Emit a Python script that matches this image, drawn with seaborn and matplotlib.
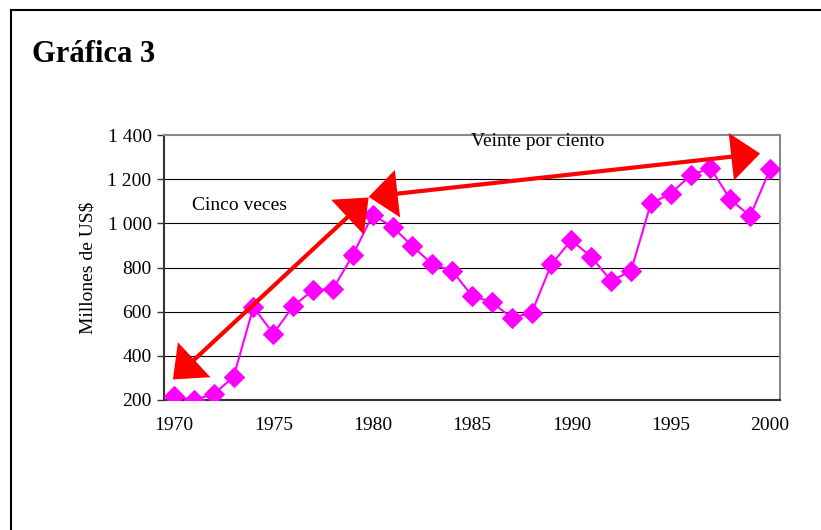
import matplotlib
matplotlib.use("Agg")
import matplotlib.pyplot as plt
import seaborn as sns
import pandas as pd
from matplotlib.patches import FancyArrowPatch, Rectangle
from matplotlib.ticker import FuncFormatter

# Data
years = list(range(1970, 2001))
values = [218, 200, 227, 304, 621, 500, 625, 698, 702, 856,
          1038, 984, 897, 815, 785, 672, 643, 572, 595, 815,
          924, 848, 740, 784, 1090, 1135, 1217, 1251, 1108, 1033, 1244]
y_ticks = [200, 400, 600, 800, 1000, 1200, 1400]
x_labels = [1970, 1975, 1980, 1985, 1990, 1995, 2000]

df = pd.DataFrame({"year": years, "value": values})

sns.set_style("white")
plt.rcParams["font.family"] = ["Liberation Serif", "DejaVu Serif"]
plt.rcParams["text.color"] = "black"
plt.rcParams["axes.labelcolor"] = "black"
plt.rcParams["xtick.labelcolor"] = "black"
plt.rcParams["ytick.labelcolor"] = "black"

fig = plt.figure(figsize=(8.21, 5.30), dpi=100)
ax = fig.add_axes([164 / 821, 1 - 400 / 530, (780 - 164) / 821, (400 - 135) / 530])

# gridlines
for v in y_ticks[1:-1]:
    ax.axhline(v, color="black", lw=0.8, zorder=1)

sns.lineplot(data=df, x="year", y="value", ax=ax, color="#FF00FF",
             marker="D", markersize=10, markeredgecolor="#FF00FF",
             linewidth=1.5, zorder=3)

ax.set_xlim(1969.5, 2000.5)
ax.set_ylim(200, 1400)
ax.set_yticks(y_ticks)
ax.yaxis.set_major_formatter(FuncFormatter(lambda v, p: f"{int(v):,}".replace(",", " ")))
ax.set_xticks(x_labels)
ax.set_xticks([y + 0.5 for y in range(1969, 2001)], minor=True)
ax.tick_params(axis="x", which="major", length=0, pad=12, labelsize=14)
ax.tick_params(axis="x", which="minor", direction="out", length=5, width=1, color="#333333")
ax.tick_params(axis="y", direction="out", length=5, width=1, color="#333333", labelsize=14, pad=4, left=True)
ax.set_xlabel("")
ax.set_ylabel("Millones de US$", fontsize=14, labelpad=8)

for s in ["left", "bottom"]:
    ax.spines[s].set_color("#333333")
    ax.spines[s].set_linewidth(1.5)
for s in ["top", "right"]:
    ax.spines[s].set_color("#888888")
    ax.spines[s].set_linewidth(1.5)

# arrows (wide filled heads)
style = "<|-|>,head_length=0.85,head_width=0.7"
a1 = FancyArrowPatch((1969.95, 293), (1979.8, 1117), arrowstyle=style,
                     mutation_scale=20, color="#FF0000", lw=3,
                     joinstyle="miter", capstyle="butt",
                     shrinkA=0, shrinkB=0, zorder=4, clip_on=False)
a2 = FancyArrowPatch((1979.8, 1120), (1999.5, 1316), arrowstyle=style,
                     mutation_scale=20, color="#FF0000", lw=3,
                     joinstyle="miter", capstyle="butt",
                     shrinkA=0, shrinkB=0, zorder=4, clip_on=False)
ax.add_patch(a1)
ax.add_patch(a2)

ax.text(1973.3, 1082, "Cinco veces", fontsize=14, ha="center", va="center", zorder=5)
ax.text(1988.3, 1372, "Veinte por ciento", fontsize=14, ha="center", va="center", zorder=5)

# title and frame
fig.text(32 / 821, 1 - 55 / 530, "Gráfica 3", fontsize=22, fontweight="bold", ha="left", va="center")
fig.patches.append(Rectangle((11 / 821, -0.05), 1.1, 1 - 10 / 530 + 0.05,
                             transform=fig.transFigure, fill=False,
                             edgecolor="black", lw=1.5))

plt.savefig("out.png", dpi=100)
